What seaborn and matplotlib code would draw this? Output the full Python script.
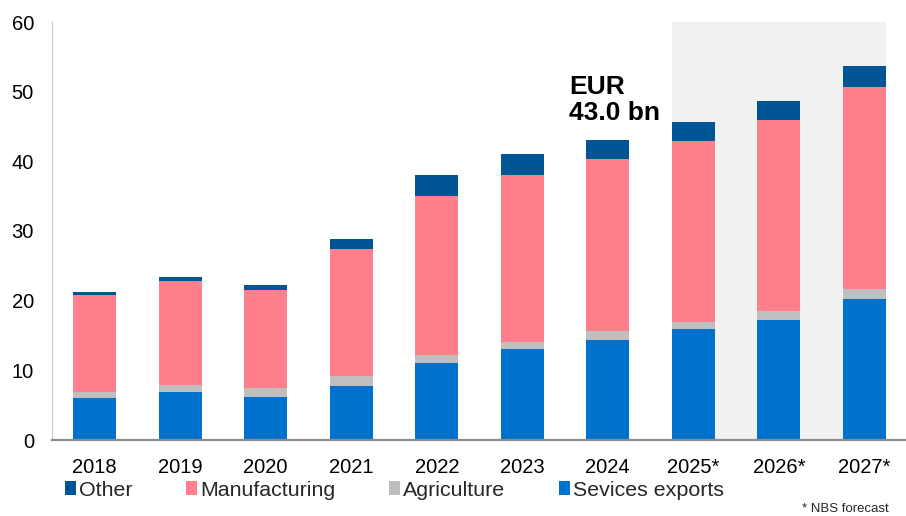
import matplotlib
matplotlib.use("Agg")
import matplotlib.pyplot as plt
from matplotlib.patches import Patch
import numpy as np
import pandas as pd
import seaborn as sns

# Export components, EUR bn
years = ["2018", "2019", "2020", "2021", "2022", "2023", "2024", "2025*", "2026*", "2027*"]
services = [6.0, 6.9, 6.2, 7.8, 11.0, 13.1, 14.4, 15.9, 17.2, 20.3]
agriculture = [0.9, 1.0, 1.2, 1.4, 1.2, 0.9, 1.3, 1.1, 1.3, 1.4]
manufacturing = [13.9, 14.9, 14.2, 18.2, 22.8, 24.0, 24.7, 25.9, 27.4, 28.9]
other = [0.4, 0.6, 0.6, 1.4, 3.0, 3.0, 2.6, 2.7, 2.7, 3.1]

series_names = ["Other", "Manufacturing", "Agriculture", "Sevices exports"]
colors = {
    "Sevices exports": "#0072CE",
    "Agriculture": "#BFBFBF",
    "Manufacturing": "#FF808C",
    "Other": "#005596",
}

df = pd.DataFrame({
    "year": years,
    "Sevices exports": services,
    "Agriculture": agriculture,
    "Manufacturing": manufacturing,
    "Other": other,
})
stack_order = ["Sevices exports", "Agriculture", "Manufacturing", "Other"]
cum = df[stack_order].cumsum(axis=1)
df_total = df[stack_order].sum(axis=1).round(1)

sns.set_style("white")
plt.rcParams["font.family"] = ["Liberation Sans", "DejaVu Sans"]

fig = plt.figure(figsize=(9.06, 5.16), dpi=100)
ax = fig.add_axes([52 / 906, 76 / 516, 855 / 906, 418 / 516])

# Forecast period background
ax.axvspan(6.75, 9.25, color="#F1F1F1", zorder=0, lw=0)

# Stacked bars: draw cumulative heights from the top layer down
for name in reversed(stack_order):
    sns.barplot(x=df["year"], y=cum[name], color=colors[name], width=0.5,
                errorbar=None, saturation=1, order=years, ax=ax, zorder=2,
                linewidth=0)

ax.set_xlim(-0.5, 9.5)
ax.set_ylim(0, 60)
ax.set_yticks(np.arange(0, 61, 10))
ax.set_xlabel("")
ax.set_ylabel("")
ax.tick_params(axis="both", length=0, labelsize=14.5, colors="black")
ax.tick_params(axis="y", pad=13)
ax.tick_params(axis="x", pad=13)

for s in ["top", "right"]:
    ax.spines[s].set_visible(False)
ax.spines["left"].set_color("#C8C8C8")
ax.spines["left"].set_linewidth(0.8)
ax.spines["bottom"].set_color("#8C8C8C")
ax.spines["bottom"].set_linewidth(1.6)
ax.spines["bottom"].set_zorder(3)

# Total annotation for 2024
i24 = years.index("2024")
ax.text(i24 - 0.45, df_total[i24] + 9.4, f"EUR\n{df_total[i24]:.1f} bn",
        fontsize=19, fontweight="bold", ha="left", va="top",
        linespacing=1.1, color="black")

handles = [Patch(facecolor=colors[n], edgecolor="none") for n in series_names]
fig.legend(handles, series_names, loc="center left",
           bbox_to_anchor=(65 / 906, 1 - 490 / 516), ncol=4, frameon=False,
           fontsize=15.4, borderpad=0, borderaxespad=0, handlelength=0.5,
           handleheight=0.6, handletextpad=0.15, columnspacing=2.52)

fig.text(889 / 906, 1 - 509 / 516, "* NBS forecast", ha="right", va="center",
         fontsize=9.5)

fig.savefig("out.png", dpi=100)
